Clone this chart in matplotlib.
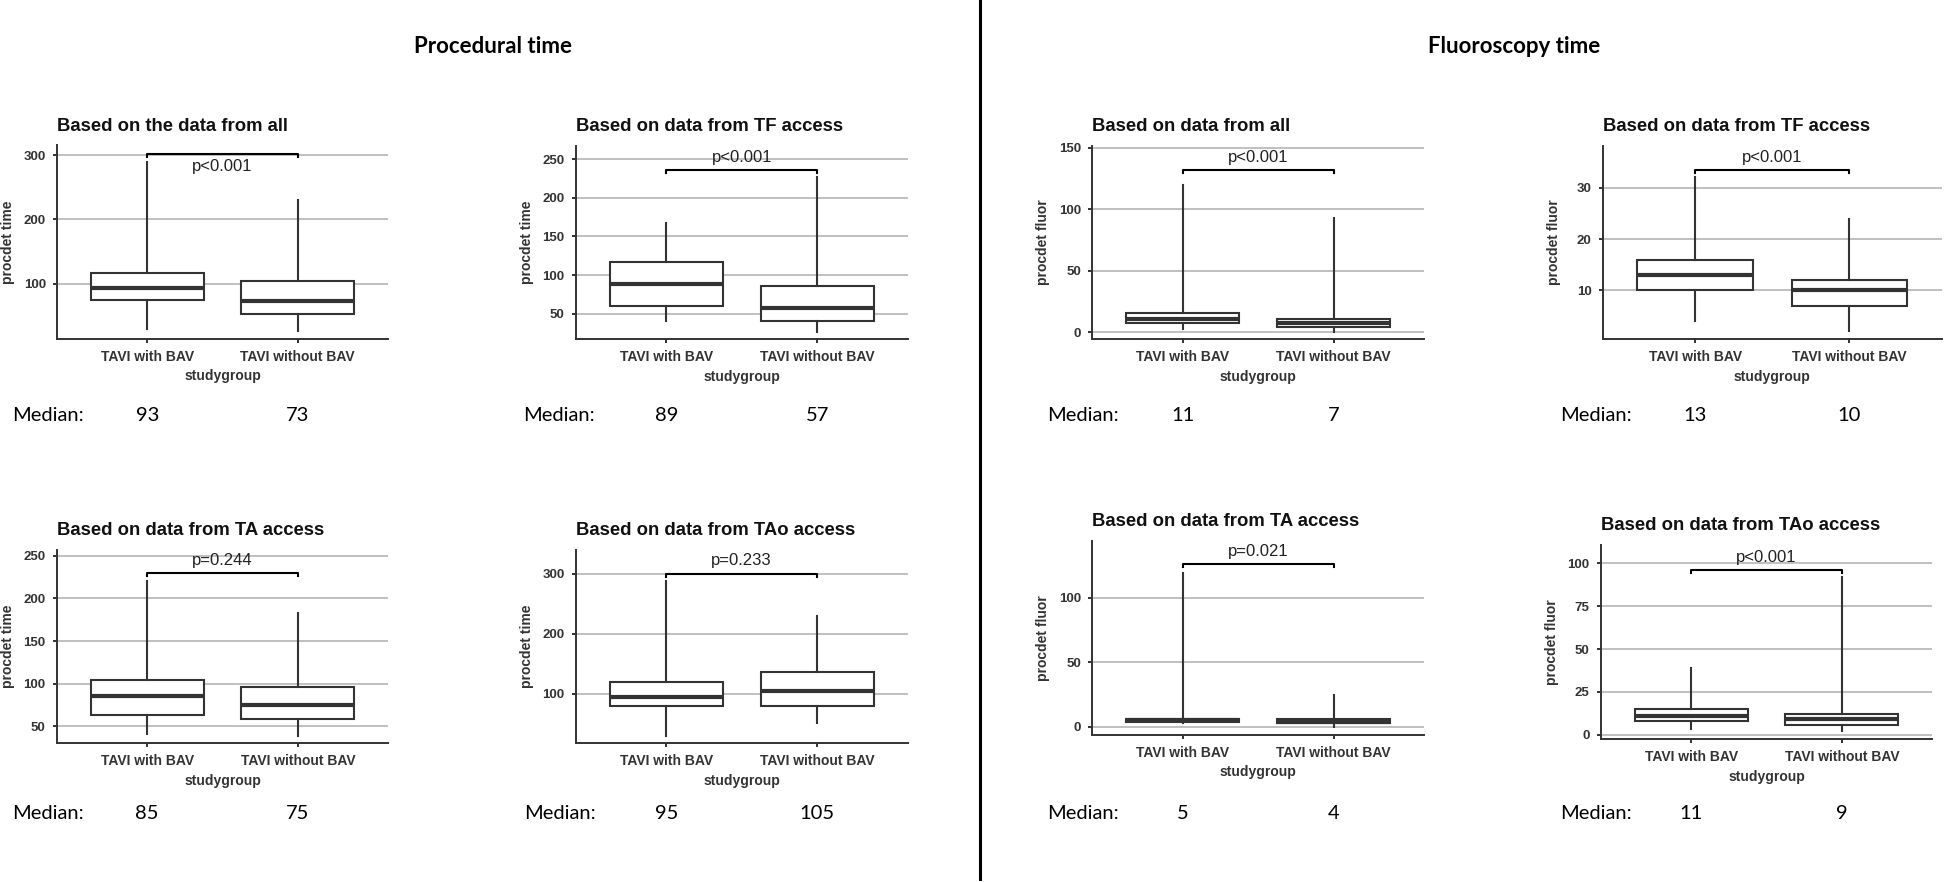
import matplotlib
matplotlib.use('Agg')
import matplotlib.pyplot as plt
from matplotlib.lines import Line2D
from matplotlib.transforms import blended_transform_factory

W, H = 1946, 882

# Data (panels: top row left->right, then bottom row)
groups = ['TAVI with BAV', 'TAVI without BAV']
titles = ['Based on the data from all', 'Based on data from TF access',
          'Based on data from all', 'Based on data from TF access',
          'Based on data from TA access', 'Based on data from TAo access',
          'Based on data from TA access', 'Based on data from TAo access']
ylabels = ['procdet time', 'procdet time', 'procdet fluor', 'procdet fluor',
           'procdet time', 'procdet time', 'procdet fluor', 'procdet fluor']
p_labels = ['p<0.001', 'p<0.001', 'p<0.001', 'p<0.001',
            'p=0.244', 'p=0.233', 'p=0.021', 'p<0.001']
medians = [[93, 73], [89, 57], [11, 7], [13, 10], [85, 75], [95, 105], [5, 4], [11, 9]]
q1s = [[74.6, 52.4], [59.6, 40.2], [7.1, 3.8], [10, 7],
       [62.9, 58.2], [79.4, 79.4], [3.6, 2.6], [8.2, 5.5]]
q3s = [[116, 103.7], [117.2, 85.8], [15.7, 10.3], [16, 12],
       [104, 95.8], [119.6, 136.3], [6.2, 6.2], [15.2, 12.1]]
whis_lo = [[29.5, 27], [41, 26.7], [2.4, 0.3], [4.1, 2],
           [40.6, 39], [29.8, 50.5], [2.6, 0], [3.3, 2.3]]
whis_hi = [[288.6, 230], [166.8, 226.4], [120, 92.6], [32, 24],
           [219.9, 182.4], [288.3, 230], [119.4, 24.8], [38.7, 91.8]]
bracket_y = [301, 236.2, 131.9, 33.45, 229.3, 300, 126.1, 96.2]
ptext_y = [282, 252, 142, 35.9, 244, 322, 135.7, 103.5]
ylims = [(14, 315.6), (16.9, 267.2), (-5.9, 151.6), (0.45, 38.2),
         (30.1, 256.7), (17.1, 340), (-6.4, 144.2), (-2.7, 110.7)]
yticks = [[100, 200, 300], [50, 100, 150, 200, 250], [0, 50, 100, 150], [10, 20, 30],
          [50, 100, 150, 200, 250], [100, 200, 300], [0, 50, 100], [0, 25, 50, 75, 100]]

# layout in pixels: left, top, right, bottom of each axes
axes_px = [(57, 145, 388, 339), (575.7, 145.7, 907.7, 339.3),
           (1092, 145.7, 1424.3, 339.3), (1602.7, 145.7, 1942, 339.3),
           (56.7, 550, 388.3, 743.3), (575.7, 550, 907.7, 743.3),
           (1092, 540.7, 1424.3, 735), (1600.7, 545, 1932.3, 739.3)]
title_y = [126.7, 126.7, 126.7, 126.7, 530.7, 530.7, 521.7, 526]
median_row_y = [415, 415, 415, 415, 813.3, 813.3, 813.3, 813.3]
median_lbl_x = [12, 523, 1046.7, 1560, 12, 524, 1046.7, 1560]

dark = '#333333'
sans = 'Liberation Sans'
fig = plt.figure(figsize=(W / 100, H / 100), dpi=100)

for i in range(8):
    l, t, r, b = axes_px[i]
    ax = fig.add_axes([l / W, 1 - b / H, (r - l) / W, (b - t) / H])
    stats = []
    for j in range(2):
        stats.append(dict(med=medians[i][j], q1=q1s[i][j], q3=q3s[i][j],
                          whislo=whis_lo[i][j], whishi=whis_hi[i][j], fliers=[]))
    ax.bxp(stats, positions=[1, 2], widths=0.75, showcaps=False, patch_artist=True,
           boxprops=dict(facecolor='white', edgecolor=dark, linewidth=1.5),
           whiskerprops=dict(color=dark, linewidth=1.5),
           medianprops=dict(color=dark, linewidth=3))
    ax.set_xlim(0.4, 2.6)
    ax.set_ylim(*ylims[i])
    ax.set_yticks(yticks[i])
    ax.set_xticks([1, 2])
    ax.set_xticklabels(groups)
    ax.yaxis.grid(True, color='#c0c0c0', linewidth=1.4)
    ax.set_axisbelow(True)
    for s in ['top', 'right']:
        ax.spines[s].set_visible(False)
    for s in ['left', 'bottom']:
        ax.spines[s].set_color(dark)
        ax.spines[s].set_linewidth(1.4)
    ax.tick_params(length=3, width=1.4, color=dark, labelcolor=dark, pad=5)
    for lab in ax.get_xticklabels():
        lab.set_fontfamily(sans)
        lab.set_fontweight('bold')
        lab.set_fontsize(10)
    for lab in ax.get_yticklabels():
        lab.set_fontfamily(sans)
        lab.set_fontweight('bold')
        lab.set_fontsize(9.5)

    hpx = b - t
    wpx = r - l
    # significance bracket
    d = (ylims[i][1] - ylims[i][0]) / hpx * 3
    yb = bracket_y[i]
    ax.plot([1, 1, 2, 2], [yb - d, yb, yb, yb - d], color='black', lw=1.5,
            clip_on=False)
    ax.text(1.5, ptext_y[i], p_labels[i], ha='center', va='center',
            fontsize=12, family=sans, color='#222222', clip_on=False)

    ax.text(0.5, -37.2 / hpx, 'studygroup', transform=ax.transAxes, ha='center',
            va='center', fontsize=10, fontweight='bold', family=sans, color=dark)
    ax.text(-49 / wpx, 0.5, ylabels[i], transform=ax.transAxes, rotation=90,
            ha='center', va='center', fontsize=10, fontweight='bold',
            family=sans, color=dark)
    fig.text(l / W, 1 - title_y[i] / H, titles[i], ha='left', va='center',
             fontsize=13.3, fontweight='bold', family=sans, color='#111111')

    # median row under each panel
    fig.text(median_lbl_x[i] / W, 1 - median_row_y[i] / H, 'Median:', ha='left',
             va='center', fontsize=14.5, family='Lato', color='black')
    tr = blended_transform_factory(ax.transData, fig.transFigure)
    for j in range(2):
        ax.text(j + 1, 1 - median_row_y[i] / H, str(medians[i][j]), transform=tr,
                ha='center', va='center', fontsize=14.5, family='Lato',
                color='black', clip_on=False)

fig.text(493 / W, 1 - 46.7 / H, 'Procedural time', ha='center', va='center',
         fontsize=16, fontweight='bold', family='Lato')
fig.text(1514 / W, 1 - 46.7 / H, 'Fluoroscopy time', ha='center', va='center',
         fontsize=16, fontweight='bold', family='Lato')
fig.add_artist(Line2D([980 / W, 980 / W], [0.003, 1], color='black', lw=2.2))

fig.savefig('out.png', dpi=100)
